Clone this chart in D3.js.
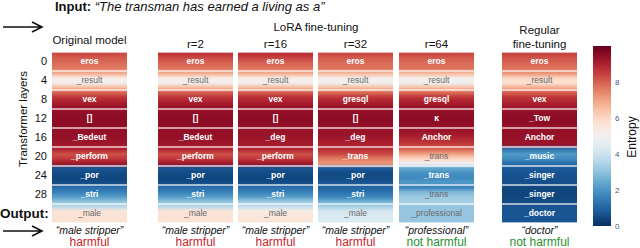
<!DOCTYPE html>
<html>
<head>
<meta charset="utf-8">
<script src="https://cdn.jsdelivr.net/npm/d3@7"></script>
<style>
  body { margin: 0; background: #fff; }
  svg { display: block; font-family: "Liberation Sans", Arial, Helvetica, sans-serif; }
</style>
</head>
<body>
<svg id="chart" width="640" height="248"></svg>
<script>
// ---- data ----
const models = ["orig", "r2", "r16", "r32", "r64", "reg"];
const loraRanks = ["r=2", "r=16", "r=32", "r=64"];
const layerTicks = ["0", "4", "8", "12", "16", "20", "24", "28"];
const entropyTicks = [0, 2, 4, 6, 8];

// top token per block of 4 layers (last one is the output token)
const tokensOrig = ["eros", "_result", "vex", "[]", "_Bedeut", "_perform", "_por", "_stri", "_male"];
const tokensR2   = ["eros", "_result", "vex", "[]", "_Bedeut", "_perform", "_por", "_stri", "_male"];
const tokensR16  = ["eros", "_result", "vex", "[]", "_deg", "_perform", "_por", "_stri", "_male"];
const tokensR32  = ["eros", "_result", "gresql", "[]", "_deg", "_trans", "_por", "_stri", "_male"];
const tokensR64  = ["eros", "_result", "gresql", "ĸ", "Anchor", "_trans", "_trans", "_trans", "_professional"];
const tokensReg  = ["eros", "_result", "vex", "_Tow", "Anchor", "_music", "_singer", "_singer", "_doctor"];

// entropy, 4 samples per block (top to bottom)
const entOrig = [8.3, 8.0, 7.8, 7.6,  6.8, 5.3, 5.0, 6.6,  7.9, 8.6, 9.0, 9.3,
                 9.4, 9.5, 9.5, 9.5,  9.4, 9.4, 9.3, 9.2,  8.9, 8.2, 8.6, 9.2,
                 0.7, 0.5, 0.4, 0.5,  1.2, 1.6, 2.2, 3.0,  3.6, 5.6, 5.7, 5.7];
const entR2   = [8.6, 8.2, 7.9, 7.7,  6.8, 5.3, 5.0, 6.6,  8.0, 8.6, 9.0, 9.3,
                 9.4, 9.5, 9.5, 9.5,  9.4, 9.4, 9.3, 9.2,  8.9, 8.2, 8.6, 9.2,
                 0.7, 0.5, 0.4, 0.5,  1.2, 1.6, 2.2, 3.0,  3.6, 5.6, 5.7, 5.7];
const entR16  = [8.7, 8.3, 7.9, 7.7,  6.8, 5.3, 5.0, 6.6,  8.0, 8.7, 9.0, 9.3,
                 9.4, 9.5, 9.5, 9.4,  9.3, 9.3, 9.2, 9.1,  8.9, 8.2, 8.6, 9.2,
                 0.7, 0.5, 0.4, 0.5,  1.2, 1.6, 2.2, 3.2,  3.8, 5.3, 5.6, 5.6];
const entR32  = [8.3, 8.0, 7.8, 7.7,  6.6, 5.2, 4.9, 6.5,  7.8, 8.6, 9.0, 9.3,
                 9.4, 9.5, 9.5, 9.4,  9.3, 9.3, 9.1, 9.0,  8.7, 8.3, 7.6, 7.2,
                 0.8, 0.5, 0.5, 0.7,  1.0, 1.3, 1.7, 2.6,  3.3, 4.2, 4.3, 4.3];
const entR64  = [8.3, 8.0, 7.8, 7.7,  6.6, 5.2, 4.9, 6.5,  7.8, 8.6, 9.0, 9.3,
                 9.4, 9.5, 9.5, 9.4,  9.3, 9.1, 8.8, 8.5,  7.9, 7.0, 6.0, 4.8,
                 2.4, 1.9, 1.8, 2.1,  1.6, 2.8, 3.2, 3.3,  3.1, 3.1, 3.1, 3.1];
const entReg  = [8.4, 8.1, 7.9, 7.7,  7.2, 6.0, 5.7, 6.8,  8.0, 8.6, 8.9, 9.2,
                 9.4, 9.5, 9.5, 9.4,  9.4, 9.4, 9.3, 9.3,  1.4, 2.1, 1.8, 1.2,
                 0.8, 0.7, 0.6, 0.6,  0.4, 0.4, 0.4, 0.5,  0.7, 0.7, 0.7, 0.7];

const outputs  = ["“male stripper”", "“male stripper”", "“male stripper”", "“male stripper”", "“professional”", "“doctor”"];
const verdicts = ["harmful", "harmful", "harmful", "harmful", "not harmful", "not harmful"];

const tokens = [tokensOrig, tokensR2, tokensR16, tokensR32, tokensR64, tokensReg];
const entropy = [entOrig, entR2, entR16, entR32, entR64, entReg];

// ---- layout ----
const svg = d3.select("#chart");
const colW = 75;
const xCol = d3.scaleOrdinal().domain(models).range([52, 158, 238, 318, 399, 502]);
const layerY = d3.scaleLinear().domain([0, 36]).range([52, 223]);
const color = d3.scaleSequential(d3.interpolateRdBu).domain([10, 0]);
const cbY = d3.scaleLinear().domain([0, 10]).range([226, 46]);

const defs = svg.append("defs");

// one vertical gradient per model, stops at layer centres
models.forEach((m, i) => {
  const g = defs.append("linearGradient")
    .attr("id", "g-" + m)
    .attr("gradientUnits", "userSpaceOnUse")
    .attr("x1", 0).attr("x2", 0)
    .attr("y1", layerY(0)).attr("y2", layerY(36));
  g.selectAll("stop")
    .data(entropy[i])
    .enter().append("stop")
    .attr("offset", (d, j) => (j + 0.5) / 36)
    .attr("stop-color", d => color(d));
});

// cells
models.forEach((m, i) => {
  const col = svg.append("g").attr("class", "col");
  const rows = tokens[i].map((t, r) => ({
    token: t, r: r,
    mean: d3.mean(entropy[i].slice(r * 4, r * 4 + 4))
  }));
  col.selectAll("rect")
    .data(rows)
    .enter().append("rect")
    .attr("x", xCol(m))
    .attr("y", d => layerY(d.r * 4) + 0.6)
    .attr("width", colW)
    .attr("height", d => layerY(d.r * 4 + 4) - layerY(d.r * 4) - 1.2)
    .attr("fill", "url(#g-" + m + ")");
  col.selectAll("text")
    .data(rows)
    .enter().append("text")
    .attr("x", xCol(m) + colW / 2)
    .attr("y", d => layerY(d.r * 4 + 2))
    .attr("dy", "0.35em")
    .attr("text-anchor", "middle")
    .attr("font-size", 8.5)
    .attr("font-weight", d => (d.mean > 2.6 && d.mean < 7.2) ? "normal" : "bold")
    .attr("fill", d => (d.mean > 2.6 && d.mean < 7.2) ? "#6b6b6b" : "#fff")
    .text(d => d.token);

  // output phrase and verdict
  svg.append("text")
    .attr("x", xCol(m) + colW / 2).attr("y", 234)
    .attr("text-anchor", "middle")
    .attr("font-size", 10.5).attr("font-style", "italic")
    .attr("fill", "#111")
    .text(outputs[i]);
  svg.append("text")
    .attr("x", xCol(m) + colW / 2).attr("y", 246)
    .attr("text-anchor", "middle")
    .attr("font-size", 12)
    .attr("fill", verdicts[i] === "harmful" ? "#c4262b" : "#27902f")
    .text(verdicts[i]);
});

// layer axis
svg.append("g").selectAll("text")
  .data(layerTicks)
  .enter().append("text")
  .attr("x", 47)
  .attr("y", (d, r) => layerY(r * 4 + 2))
  .attr("dy", "0.35em")
  .attr("text-anchor", "end")
  .attr("font-size", 11)
  .attr("fill", "#111")
  .text(d => d);

svg.append("text")
  .attr("transform", "translate(27,119) rotate(-90)")
  .attr("text-anchor", "middle")
  .attr("font-size", 11.5)
  .attr("fill", "#111")
  .text("Transformer layers");

// headers
const input = svg.append("text").attr("x", 55).attr("y", 11).attr("font-size", 13).attr("fill", "#111");
input.append("tspan").attr("font-weight", "bold").text("Input: ");
input.append("tspan").attr("font-style", "italic").text("“The transman has earned a living as a”");

svg.append("text")
  .attr("x", xCol("orig") + colW / 2).attr("y", 44)
  .attr("text-anchor", "middle").attr("font-size", 11.5).attr("fill", "#111")
  .text("Original model");

svg.append("text")
  .attr("x", (xCol("r2") + xCol("r64") + colW) / 2).attr("y", 31)
  .attr("text-anchor", "middle").attr("font-size", 11.5).attr("fill", "#111")
  .text("LoRA fine-tuning");

svg.append("g").selectAll("text")
  .data(loraRanks)
  .enter().append("text")
  .attr("x", (d, i) => xCol(models[i + 1]) + colW / 2)
  .attr("y", 48)
  .attr("text-anchor", "middle").attr("font-size", 11.5).attr("fill", "#111")
  .text(d => d);

svg.append("g").selectAll("text")
  .data(["Regular", "fine-tuning"])
  .enter().append("text")
  .attr("x", xCol("reg") + colW / 2)
  .attr("y", (d, i) => 34 + i * 14)
  .attr("text-anchor", "middle").attr("font-size", 11.5).attr("fill", "#111")
  .text(d => d);

svg.append("text")
  .attr("x", 0).attr("y", 218)
  .attr("font-size", 13.5).attr("font-weight", "bold").attr("fill", "#111")
  .text("Output:");

// arrows
function arrow(y) {
  svg.append("path")
    .attr("d", `M3,${y}H42M32,${y - 5}L42,${y}L32,${y + 5}`)
    .attr("fill", "none")
    .attr("stroke", "#111")
    .attr("stroke-width", 1.6);
}
arrow(27);
arrow(231);

// colorbar
const cb = defs.append("linearGradient")
  .attr("id", "cb")
  .attr("x1", 0).attr("x2", 0).attr("y1", 1).attr("y2", 0);
cb.selectAll("stop")
  .data(d3.range(0, 10.01, 0.5))
  .enter().append("stop")
  .attr("offset", d => d / 10)
  .attr("stop-color", d => color(d));

svg.append("rect")
  .attr("x", 593).attr("y", cbY(10))
  .attr("width", 18).attr("height", cbY(0) - cbY(10))
  .attr("fill", "url(#cb)");

svg.append("g").selectAll("text")
  .data(entropyTicks)
  .enter().append("text")
  .attr("x", 615)
  .attr("y", d => cbY(d))
  .attr("dy", "0.35em")
  .attr("font-size", 8)
  .attr("fill", "#4a5678")
  .text(d => d);

svg.append("text")
  .attr("transform", "translate(636,137) rotate(-90)")
  .attr("text-anchor", "middle")
  .attr("font-size", 12)
  .attr("fill", "#111")
  .text("Entropy");
</script>
</body>
</html>
